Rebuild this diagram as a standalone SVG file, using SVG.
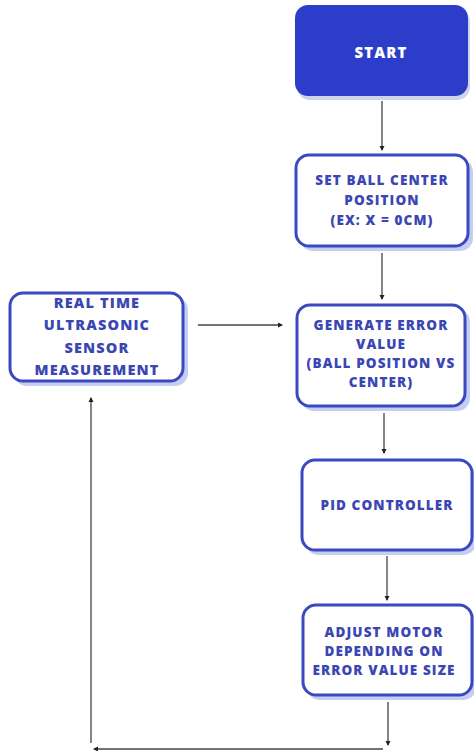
<svg xmlns="http://www.w3.org/2000/svg" width="474" height="751" viewBox="0 0 474 751">
<defs>
<marker id="ah" markerWidth="6" markerHeight="6" refX="4" refY="3" orient="auto" markerUnits="userSpaceOnUse">
<path d="M0,0.5 L5,3 L0,5.5 Z" fill="#222"/>
</marker>
</defs>
<style>
.box{fill:#fff;stroke:#3a49bf;stroke-width:3}
.sh{fill:#c5cdf2}
.t{font-family:"Open Sans","DejaVu Sans",sans-serif;font-weight:800;font-size:13.5px;fill:#3a46b2;text-anchor:middle;letter-spacing:1.1px}
.big{font-size:14.5px;letter-spacing:1.15px}
.c{stroke:#444;stroke-width:1.3;fill:none}
</style>
<rect width="474" height="751" fill="#fff"/>
<g id="connectors">
<line class="c" x1="382" y1="101" x2="382" y2="150" marker-end="url(#ah)"/>
<line class="c" x1="382" y1="253" x2="382" y2="299" marker-end="url(#ah)"/>
<line class="c" x1="198" y1="325" x2="282" y2="325" marker-end="url(#ah)"/>
<line class="c" x1="384" y1="413" x2="384" y2="453" marker-end="url(#ah)"/>
<line class="c" x1="387" y1="556" x2="387" y2="600" marker-end="url(#ah)"/>
<line class="c" x1="388" y1="702" x2="388" y2="745" marker-end="url(#ah)"/>
<line class="c" x1="383" y1="749" x2="94" y2="749" marker-end="url(#ah)"/>
<line class="c" x1="91" y1="743" x2="91" y2="398" marker-end="url(#ah)"/>
</g>
<g id="start">
<rect x="297" y="9" width="173" height="91" rx="13" fill="#cfd4ea"/>
<rect x="295" y="5" width="173" height="91" rx="13" fill="#2c3dca"/>
<text class="t" x="381" y="58" style="fill:#fff;font-size:15px">START</text>
</g>
<g id="set">
<rect class="sh" x="300" y="159" width="173" height="92" rx="13"/>
<rect class="box" x="296" y="155" width="172" height="91" rx="13"/>
<text class="t" x="382" y="185">SET BALL CENTER</text>
<text class="t" x="382" y="205">POSITION</text>
<text class="t" x="382" y="225">(EX: X = 0CM)</text>
</g>
<g id="realtime">
<rect class="sh" x="14" y="297" width="174" height="89" rx="13"/>
<rect class="box" x="10" y="293" width="173" height="88" rx="13"/>
<text class="t big" x="97" y="308">REAL TIME</text>
<text class="t big" x="97" y="330">ULTRASONIC</text>
<text class="t big" x="97" y="353">SENSOR</text>
<text class="t big" x="97" y="375">MEASUREMENT</text>
</g>
<g id="generate">
<rect class="sh" x="301" y="309" width="169" height="102" rx="13"/>
<rect class="box" x="297" y="305" width="168" height="101" rx="13"/>
<text class="t" x="381" y="330">GENERATE ERROR</text>
<text class="t" x="381" y="349">VALUE</text>
<text class="t" x="381" y="368">(BALL POSITION VS</text>
<text class="t" x="381" y="387">CENTER)</text>
</g>
<g id="pid">
<rect class="sh" x="306" y="464" width="170" height="91" rx="13"/>
<rect class="box" x="302" y="460" width="170" height="90" rx="13"/>
<text class="t" x="387" y="510">PID CONTROLLER</text>
</g>
<g id="adjust">
<rect class="sh" x="307" y="609" width="169" height="91" rx="13"/>
<rect class="box" x="303" y="605" width="169" height="90" rx="13"/>
<text class="t" x="384" y="637">ADJUST MOTOR</text>
<text class="t" x="384" y="656">DEPENDING ON</text>
<text class="t" x="384" y="675">ERROR VALUE SIZE</text>
</g>
</svg>
